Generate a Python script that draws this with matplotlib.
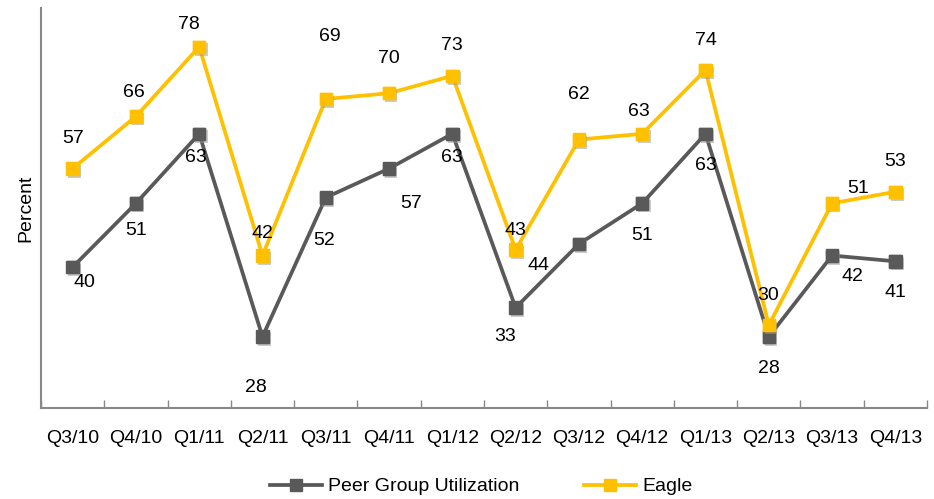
import numpy as np
import matplotlib
matplotlib.use("Agg")
import matplotlib.pyplot as plt
import matplotlib.patheffects as pe

plt.rcParams['font.family'] = ['Liberation Sans', 'DejaVu Sans']

quarters = ["Q3/10", "Q4/10", "Q1/11", "Q2/11", "Q3/11", "Q4/11", "Q1/12",
            "Q2/12", "Q3/12", "Q4/12", "Q1/13", "Q2/13", "Q3/13", "Q4/13"]
peer = [40, 51, 63, 28, 52, 57, 63, 33, 44, 51, 63, 28, 42, 41]
eagle = [57, 66, 78, 42, 69, 70, 73, 43, 62, 63, 74, 30, 51, 53]

# label offsets in pixels (dx, dy), placed by hand so they don't collide
peer_off = [(12, -15), (0, -27), (-3, -24), (-7, -51), (-2, -43), (22, -35), (0, -24),
            (-11, -29), (-40, -22), (0, -32), (0, -32), (0, -32), (20, -21), (0, -31)]
eagle_off = [(0, 30), (-2, 24), (-10, 22), (0, 22), (4, 62), (0, 35), (0, 30),
             (0, 19), (0, 45), (-3, 22), (0, 30), (-1, 30), (26, 15), (0, 30)]

gray = "#595959"
gold = "#FFC000"
fs = 14

fig = plt.figure(figsize=(9.34, 4.99), dpi=100)
ax = fig.add_axes([0.0439, 0.1824, 0.9486, 0.8016])

x = np.arange(len(quarters))
shadow = [pe.SimplePatchShadow(offset=(1.5, -2), shadow_rgbFace="#999999", alpha=0.5), pe.Normal()]

ax.plot(x, peer, color=gray, lw=2.7, marker="s", ms=9, label="Peer Group Utilization",
        zorder=3)
ax.plot(x, eagle, color=gold, lw=2.7, marker="s", ms=9, label="Eagle", zorder=4)
ax.plot(x, peer, ls="none", marker="s", ms=9, color=gray, path_effects=shadow, zorder=3)
ax.plot(x, eagle, ls="none", marker="s", ms=9, color=gold, path_effects=shadow, zorder=4)

for xi, v, (dx, dy) in zip(x, peer, peer_off):
    ax.annotate(str(v), (xi, v), xytext=(dx, dy), textcoords="offset pixels",
                ha="center", va="center", fontsize=fs, color="black", zorder=5)
for xi, v, (dx, dy) in zip(x, eagle, eagle_off):
    ax.annotate(str(v), (xi, v), xytext=(dx, dy), textcoords="offset pixels",
                ha="center", va="center", fontsize=fs, color="black", zorder=5)

ax.set_xlim(-0.5, len(quarters) - 0.5)
ax.set_ylim(15.7, 84.7)
ax.set_xticks(x)
ax.set_xticklabels(quarters, fontsize=fs)
ax.set_xticks(np.arange(-0.5, len(quarters)), minor=True)
ax.tick_params(axis="x", which="major", length=0, pad=16)
ax.tick_params(axis="x", which="minor", length=6, width=1, direction="in", color="#888888")
ax.set_yticks([])
ax.set_ylabel("Percent", fontsize=fs, labelpad=5)

for side in ["top", "right"]:
    ax.spines[side].set_visible(False)
for side in ["left", "bottom"]:
    ax.spines[side].set_color("#888888")
    ax.spines[side].set_linewidth(1.5)

fig.legend(loc="center", bbox_to_anchor=(0.515, 0.025), ncol=2, frameon=False,
           fontsize=fs, handlelength=2.7, columnspacing=3.3, handletextpad=0.3)

fig.savefig("out.png", dpi=100)
